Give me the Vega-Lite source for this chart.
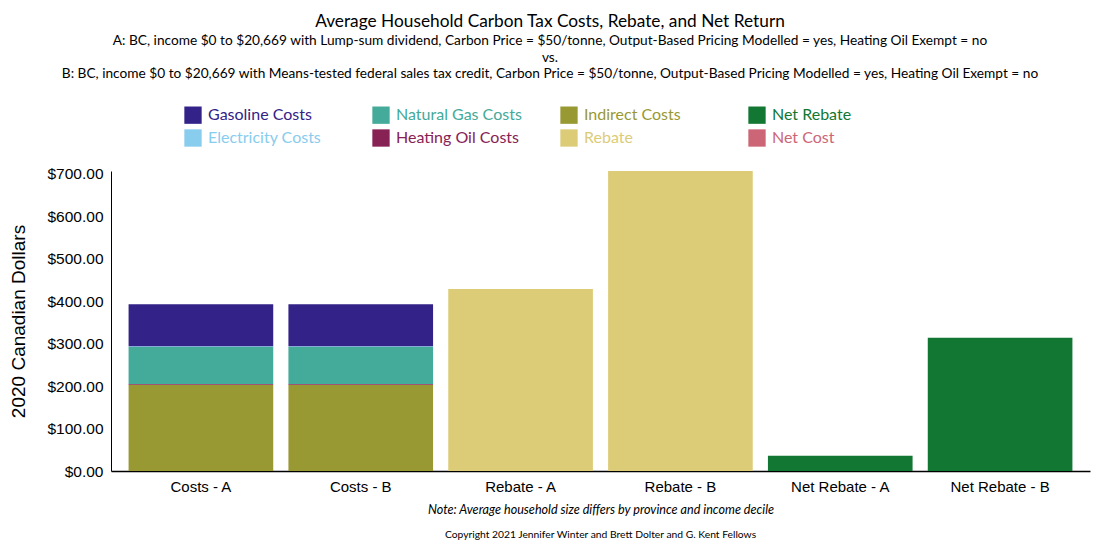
{
  "$schema": "https://vega.github.io/schema/vega-lite/v6.json",
  "background": "white",
  "padding": {"left": 9, "top": 13, "right": 18, "bottom": 5},
  "title": {
    "text": "Average Household Carbon Tax Costs, Rebate, and Net Return",
    "subtitle": [
      "A: BC, income $0 to $20,669 with Lump-sum dividend, Carbon Price = $50/tonne, Output-Based Pricing Modelled = yes, Heating Oil Exempt = no",
      "vs.",
      "B: BC, income $0 to $20,669 with Means-tested federal sales tax credit, Carbon Price = $50/tonne, Output-Based Pricing Modelled = yes, Heating Oil Exempt = no"
    ],
    "font": "Lato",
    "fontSize": 17.3,
    "fontWeight": "normal",
    "color": "black",
    "subtitleFont": "Lato",
    "subtitleFontSize": 13.7,
    "subtitleColor": "black",
    "subtitleLineHeight": 16.5,
    "subtitlePadding": 4,
    "anchor": "middle",
    "offset": 25
  },
  "config": {
    "view": {"stroke": null},
    "concat": {"spacing": 0}
  },
  "vconcat": [
    {
      "width": 979,
      "height": 300,
      "title": {
        "text": "Copyright 2021 Jennifer Winter and Brett Dolter and G. Kent Fellows",
        "orient": "bottom",
        "frame": "group",
        "anchor": "middle",
        "font": "Lato",
        "fontSize": 10.3,
        "fontWeight": "normal",
        "color": "black",
        "offset": 14
      },
      "data": {
        "values": [
          {"category": "Costs - A", "component": "Indirect Costs", "value": 203, "order": 1},
          {"category": "Costs - A", "component": "Heating Oil Costs", "value": 2, "order": 2},
          {"category": "Costs - A", "component": "Natural Gas Costs", "value": 87, "order": 3},
          {"category": "Costs - A", "component": "Electricity Costs", "value": 2, "order": 4},
          {"category": "Costs - A", "component": "Gasoline Costs", "value": 99, "order": 5},
          {"category": "Costs - B", "component": "Indirect Costs", "value": 203, "order": 1},
          {"category": "Costs - B", "component": "Heating Oil Costs", "value": 2, "order": 2},
          {"category": "Costs - B", "component": "Natural Gas Costs", "value": 87, "order": 3},
          {"category": "Costs - B", "component": "Electricity Costs", "value": 2, "order": 4},
          {"category": "Costs - B", "component": "Gasoline Costs", "value": 99, "order": 5},
          {"category": "Rebate - A", "component": "Rebate", "value": 429, "order": 1},
          {"category": "Rebate - B", "component": "Rebate", "value": 707, "order": 1},
          {"category": "Net Rebate - A", "component": "Net Rebate", "value": 36, "order": 1},
          {"category": "Net Rebate - B", "component": "Net Rebate", "value": 314, "order": 1}
        ]
      },
      "mark": {"type": "bar"},
      "encoding": {
        "x": {
          "field": "category",
          "type": "nominal",
          "sort": ["Costs - A", "Costs - B", "Rebate - A", "Rebate - B", "Net Rebate - A", "Net Rebate - B"],
          "scale": {"paddingInner": 0.095, "paddingOuter": 0.11},
          "axis": {
            "title": "Note: Average household size differs by province and income decile",
            "titleFont": "Lato",
            "titleFontSize": 12.6,
            "titleFontStyle": "italic",
            "titleFontWeight": "normal",
            "titleColor": "black",
            "titlePadding": 9,
            "labelAngle": 0,
            "labelFont": "Liberation Sans",
            "labelFontSize": 15,
            "labelColor": "black",
            "labelPadding": 8,
            "ticks": false,
            "domainColor": "black",
            "domainWidth": 1.5
          }
        },
        "y": {
          "field": "value",
          "type": "quantitative",
          "stack": "zero",
          "scale": {"domain": [0, 707], "nice": false, "zero": true},
          "axis": {
            "title": "2020 Canadian Dollars",
            "titleFont": "Liberation Sans",
            "titleFontSize": 19,
            "titleFontWeight": "normal",
            "titleColor": "black",
            "titlePadding": 18,
            "format": "$,.2f",
            "values": [0, 100, 200, 300, 400, 500, 600, 700],
            "labelFont": "Liberation Sans",
            "labelFontSize": 15.5,
            "labelColor": "black",
            "labelPadding": 8,
            "ticks": false,
            "grid": false,
            "domainColor": "black",
            "domainWidth": 1
          }
        },
        "color": {
          "field": "component",
          "type": "nominal",
          "scale": {
            "domain": ["Gasoline Costs", "Natural Gas Costs", "Indirect Costs", "Net Rebate", "Electricity Costs", "Heating Oil Costs", "Rebate", "Net Cost"],
            "range": ["#332288", "#44AA99", "#999933", "#117733", "#88CCEE", "#882255", "#DDCC77", "#CC6677"]
          },
          "legend": {
            "title": null,
            "orient": "none",
            "legendX": 73,
            "legendY": -65,
            "direction": "horizontal",
            "columns": 4,
            "gridAlign": "all",
            "columnPadding": 38,
            "rowPadding": 5,
            "symbolType": "square",
            "symbolSize": 300,
            "symbolStrokeWidth": 0,
            "symbolOpacity": 1,
            "labelFont": "Lato",
            "labelFontSize": 16,
            "labelOffset": 6,
            "labelLimit": 300,
            "encode": {
              "labels": {"update": {"fill": {"scale": "color", "field": "value"}}}
            }
          }
        },
        "order": {"field": "order", "type": "quantitative"}
      }
    }
  ]
}
